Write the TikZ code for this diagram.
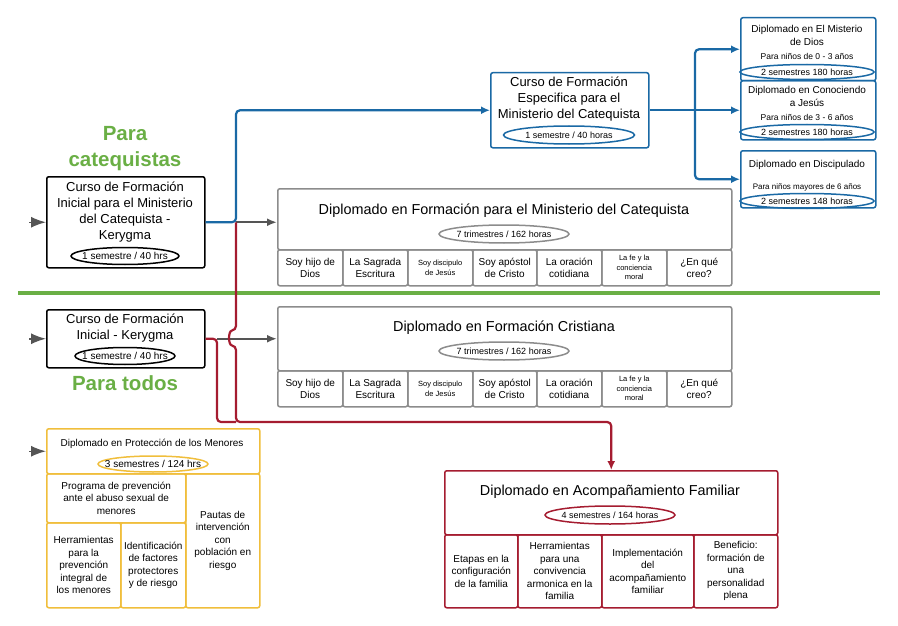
\documentclass[tikz,border=0pt]{standalone}
\usepackage{fontspec}
\setmainfont{Liberation Sans}
\usetikzlibrary{arrows.meta,shapes.geometric}

\definecolor{catblue}{HTML}{1A69A5}
\definecolor{famred}{HTML}{A51C30}
\definecolor{mingold}{HTML}{F0BE3C}
\definecolor{paragreen}{HTML}{6AAF45}
\definecolor{boxgray}{HTML}{8C8C8C}
\definecolor{arrowgray}{HTML}{555555}

\begin{document}
\begin{tikzpicture}[x=1pt,y=-1pt,
    every text node part/.style={align=center},
    box/.style={draw, rounded corners=2pt, line width=1.5pt, inner sep=0pt, anchor=north west},
    cell/.style={box, font=\fontsize{10}{12}\selectfont},
    smallcell/.style={font=\fontsize{7.5}{9.5}\selectfont},
    tag/.style={draw, ellipse, line width=1.5pt, inner xsep=-10pt, inner ysep=0pt,
      font=\fontsize{9}{10}\selectfont},
    inarrow/.style={arrowgray, line width=1.5pt, -{Latex[length=15pt,width=11pt]}},
    blueline/.style={catblue, line width=2.2pt, rounded corners=4pt, -{Latex[length=9pt,width=8pt]}},
    redline/.style={famred, line width=2.2pt, rounded corners=4pt, -{Latex[length=9pt,width=8pt]}},
    grayline/.style={arrowgray, line width=2pt, -{Latex[length=10pt,width=8pt]}}]
    \useasboundingbox (0,0) rectangle (898,626);

    % Divider and headings
    \draw[paragreen, line width=4.5pt] (18,293) -- (880,293);
    \node[font=\fontsize{20.5}{26}\selectfont\bfseries, text=paragreen] (paracat) at (125,149) {Para\\catequistas};
    \node[font=\fontsize{20.5}{26}\selectfont\bfseries, text=paragreen] (paratodos) at (125,383) {Para todos};

    % Kerygma boxes
    \node[box, minimum width=158pt, minimum height=91pt] (kerycat) at (46,176) {};
    \node[font=\fontsize{13}{16}\selectfont] (kerycat-txt) at (125,212)
      {Curso de Formación\\Inicial para el Ministerio\\del Catequista -\\Kerygma};
    \node[tag, font=\fontsize{10}{11}\selectfont, minimum width=108pt, minimum height=17pt] (kerycat-hrs) at (125,256) {1 semestre / 40 hrs};

    \node[box, minimum width=158pt, minimum height=58pt] (kerytodos) at (46,309) {};
    \node[font=\fontsize{13}{16}\selectfont] (kerytodos-txt) at (125,328) {Curso de Formación\\Inicial - Kerygma};
    \node[tag, font=\fontsize{10}{11}\selectfont, minimum width=100pt, minimum height=17pt] (kerytodos-hrs) at (125,356) {1 semestre / 40 hrs};

    % Especifica and children
    \node[box, draw=catblue, minimum width=158pt, minimum height=75pt] (especifica) at (490,72) {};
    \node[font=\fontsize{13}{16}\selectfont] (especifica-txt) at (569,99)
      {Curso de Formación\\Especifica para el\\Ministerio del Catequista};
    \node[tag, draw=catblue, minimum width=131pt, minimum height=18pt] (especifica-hrs) at (569,135) {1 semestre / 40 horas};

    \node[box, draw=catblue, minimum width=135pt, minimum height=63pt] (misterio) at (740,17) {};
    \node[font=\fontsize{10}{13}\selectfont] (misterio-txt) at (807,35) {Diplomado en El Misterio\\de Dios};
    \node[font=\fontsize{8.5}{10}\selectfont] (misterio-edad) at (807,56) {Para niños de 0 - 3 años};
    \node[tag, draw=catblue, minimum width=134pt, minimum height=15pt] (misterio-hrs) at (807,72) {2 semestres 180 horas};

    \node[box, draw=catblue, minimum width=135pt, minimum height=59pt] (conociendo) at (740,80) {};
    \node[font=\fontsize{10}{13}\selectfont] (conociendo-txt) at (807,96) {Diplomado en Conociendo\\a Jesús};
    \node[font=\fontsize{8.5}{10}\selectfont] (conociendo-edad) at (807,117) {Para niños de 3 - 6 años};
    \node[tag, draw=catblue, minimum width=134pt, minimum height=15pt] (conociendo-hrs) at (807,132) {2 semestres 180 horas};

    \node[box, draw=catblue, minimum width=135pt, minimum height=57pt] (discipulado) at (740,150) {};
    \node[font=\fontsize{10}{13}\selectfont] (discipulado-txt) at (807,165) {Diplomado en Discipulado};
    \node[font=\fontsize{8}{10}\selectfont] (discipulado-edad) at (807,187) {Para niños mayores de 6 años};
    \node[tag, draw=catblue, minimum width=134pt, minimum height=15pt] (discipulado-hrs) at (807,201) {2 semestres 148 horas};

    % Diplomado for catequistas
    \node[box, draw=boxgray, minimum width=454pt, minimum height=61pt] (ministerio) at (277,188) {};
    \node[font=\fontsize{14.4}{17}\selectfont] (ministerio-txt) at (504,211) {Diplomado en Formación para el Ministerio del Catequista};
    \node[tag, draw=boxgray, minimum width=130pt, minimum height=18pt] (ministerio-hrs) at (504,234) {7 trimestres / 162 horas};
    \node[cell, draw=boxgray, minimum width=65pt, minimum height=36pt] (mcell1) at (277,249) {Soy hijo de\\Dios};
    \node[cell, draw=boxgray, minimum width=65pt, minimum height=36pt] (mcell2) at (342,249) {La Sagrada\\Escritura};
    \node[cell, smallcell, draw=boxgray, minimum width=65pt, minimum height=36pt] (mcell3) at (407,249) {Soy discipulo\\de Jesús};
    \node[cell, draw=boxgray, minimum width=64pt, minimum height=36pt] (mcell4) at (472,249) {Soy apóstol\\de Cristo};
    \node[cell, draw=boxgray, minimum width=65pt, minimum height=36pt] (mcell5) at (536,249) {La oración\\cotidiana};
    \node[cell, smallcell, draw=boxgray, minimum width=65pt, minimum height=36pt] (mcell6) at (601,249) {La fe y la\\conciencia\\moral};
    \node[cell, draw=boxgray, minimum width=65pt, minimum height=36pt] (mcell7) at (666,249) {¿En qué\\creo?};

    % Diplomado for todos
    \node[box, draw=boxgray, minimum width=454pt, minimum height=64pt] (cristiana) at (277,306) {};
    \node[font=\fontsize{14.4}{17}\selectfont] (cristiana-txt) at (504,328) {Diplomado en Formación Cristiana};
    \node[tag, draw=boxgray, minimum width=130pt, minimum height=18pt] (cristiana-hrs) at (504,351) {7 trimestres / 162 horas};
    \node[cell, draw=boxgray, minimum width=65pt, minimum height=36pt] (tcell1) at (277,370) {Soy hijo de\\Dios};
    \node[cell, draw=boxgray, minimum width=65pt, minimum height=36pt] (tcell2) at (342,370) {La Sagrada\\Escritura};
    \node[cell, smallcell, draw=boxgray, minimum width=65pt, minimum height=36pt] (tcell3) at (407,370) {Soy discipulo\\de Jesús};
    \node[cell, draw=boxgray, minimum width=64pt, minimum height=36pt] (tcell4) at (472,370) {Soy apóstol\\de Cristo};
    \node[cell, draw=boxgray, minimum width=65pt, minimum height=36pt] (tcell5) at (536,370) {La oración\\cotidiana};
    \node[cell, smallcell, draw=boxgray, minimum width=65pt, minimum height=36pt] (tcell6) at (601,370) {La fe y la\\conciencia\\moral};
    \node[cell, draw=boxgray, minimum width=65pt, minimum height=36pt] (tcell7) at (666,370) {¿En qué\\creo?};

    % Proteccion de los menores
    \node[box, draw=mingold, minimum width=213pt, minimum height=45pt] (menores) at (46,428) {};
    \node[font=\fontsize{10}{12}\selectfont] (menores-txt) at (152,444) {Diplomado en Protección de los Menores};
    \node[tag, draw=mingold, font=\fontsize{10}{11}\selectfont, minimum width=110pt, minimum height=16pt] (menores-hrs) at (153,464) {3 semestres / 124 hrs};
    \node[cell, draw=mingold, font=\fontsize{10}{12.5}\selectfont, minimum width=139pt, minimum height=49pt] (programa) at (46,473) {Programa de prevención\\ante el abuso sexual de\\menores};
    \node[cell, draw=mingold, font=\fontsize{10}{12.5}\selectfont, minimum width=74pt, minimum height=85pt] (herramientas) at (46,522) {Herramientas\\para la\\prevención\\integral de\\los menores};
    \node[cell, draw=mingold, font=\fontsize{10}{12.5}\selectfont, minimum width=65pt, minimum height=85pt] (factores) at (120,522) {Identificación\\de factores\\protectores\\y de riesgo};
    \node[cell, draw=mingold, font=\fontsize{10}{12.5}\selectfont, minimum width=74pt, minimum height=134pt] (pautas) at (185,473) {Pautas de\\intervención\\con\\población en\\riesgo};

    % Acompanamiento familiar
    \node[box, draw=famred, minimum width=333pt, minimum height=64pt] (familia) at (444,470) {};
    \node[font=\fontsize{14.4}{17}\selectfont] (familia-txt) at (610,492) {Diplomado en Acompañamiento Familiar};
    \node[tag, draw=famred, minimum width=130pt, minimum height=18pt] (familia-hrs) at (610,515) {4 semestres / 164 horas};
    \node[cell, draw=famred, font=\fontsize{10}{12.5}\selectfont, minimum width=73pt, minimum height=73pt] (etapas) at (444,534) {Etapas en la\\configuración\\de la familia};
    \node[cell, draw=famred, font=\fontsize{10}{12.5}\selectfont, minimum width=84pt, minimum height=73pt] (convivencia) at (517,534) {Herramientas\\para una\\convivencia\\armonica en la\\familia};
    \node[cell, draw=famred, font=\fontsize{10}{12.5}\selectfont, minimum width=92pt, minimum height=73pt] (implementacion) at (601,534) {Implementación\\del\\acompañamiento\\familiar};
    \node[cell, draw=famred, font=\fontsize{10}{12.5}\selectfont, minimum width=84pt, minimum height=73pt] (beneficio) at (693,534) {Beneficio:\\formación de\\una\\personalidad\\plena};

    % Entry arrows
    \coordinate (in-cat) at (29,0 |- kerycat.west);
    \coordinate (in-todos) at (29,0 |- kerytodos.west);
    \coordinate (in-menores) at (29,0 |- menores.west);
    \draw[inarrow] (in-cat) -- (kerycat.west);
    \draw[inarrow] (in-todos) -- (kerytodos.west);
    \draw[inarrow] (in-menores) -- (menores.west);

    % Arcs
    \coordinate (bluejoin) at (236,0 |- kerycat.east);
    \coordinate (fork) at (695,0 |- especifica.east);
    \coordinate (redfork) at (217,0 |- kerytodos.east);
    \coordinate (redturn) at (236,422);

    \draw[blueline] (kerycat.east) -- (bluejoin) |- (especifica.west);
    \draw[blueline] (especifica.east) -- (conociendo.west);
    \draw[blueline] (fork) |- (misterio.west);
    \draw[blueline] (fork) |- (discipulado.west);

    \draw[grayline] (bluejoin) -- (ministerio.west |- bluejoin);
    \draw[grayline] (redfork) -- (cristiana.west |- redfork);

    \draw[redline, -] (kerytodos.east) -- (redfork) |- (redturn);
    \draw[redline] (bluejoin) -- (236,330) .. controls (228,331) and (228,345) .. (236,346)
      -- (redturn) -| (familia.north);
\end{tikzpicture}
\end{document}
